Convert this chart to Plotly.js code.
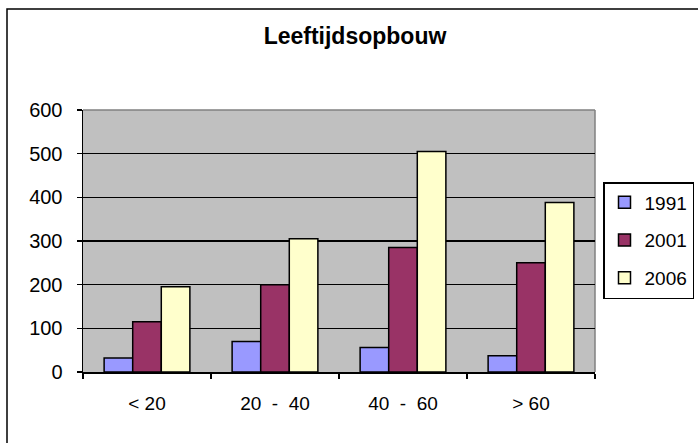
<!DOCTYPE html>
<html>
<head>
<meta charset="utf-8">
<script src="https://cdn.plot.ly/plotly-3.0.1.min.js"></script>
<style>html,body{margin:0;padding:0;background:#fff;}#chart{width:698px;height:443px;}</style>
</head>
<body>
<div id="chart"></div>
<script>
const categories = ["< 20", "20\u00a0\u00a0-\u00a0\u00a040", "40\u00a0\u00a0-\u00a0\u00a060", "> 60"];
const seriesNames = ["1991", "2001", "2006"];
const values1991 = [32, 70, 56, 37];
const values2001 = [115, 200, 285, 250];
const values2006 = [195, 305, 505, 388];
const yTicks = [0, 100, 200, 300, 400, 500, 600];
const chartTitle = "Leeftijdsopbouw";

const colors = ["#9999FF", "#993366", "#FFFFCC"];
const allValues = [values1991, values2001, values2006];
const FONT = "Arial, 'Liberation Sans', sans-serif";

const traces = allValues.map((vals, i) => ({
  type: "bar",
  x: categories,
  y: vals,
  name: seriesNames[i],
  legendgroup: "g" + i,
  marker: {color: colors[i], line: {color: "#000", width: 1.5}},
  hoverinfo: "x+y+name"
}));

// plot area in pixels: x 83..595, y 110..372
const W = 698, H = 443, L = 83, R = 595, T = 110, B = 372;
const pw = R - L, ph = B - T;
const px = v => (v - L) / pw;
const py = v => (B - v) / ph;

const layout = {
  width: W, height: H,
  margin: {l: L, r: W - R, t: T, b: H - B, pad: 0, autoexpand: false},
  paper_bgcolor: "#ffffff",
  plot_bgcolor: "#C0C0C0",
  font: {family: FONT, size: 19, color: "#000"},
  title: {
    text: "<b>" + chartTitle + "</b>",
    font: {family: FONT, size: 23, color: "#000"},
    x: 355 / W, xref: "container", xanchor: "center",
    y: 1 - 36 / H, yref: "container", yanchor: "middle"
  },
  bargap: 0.33,
  bargroupgap: 0,
  barmode: "group",
  xaxis: {
    type: "category",
    showline: true, linecolor: "#000", linewidth: 1.5,
    ticks: "outside", tickson: "boundaries", ticklen: 5, tickcolor: "#000", tickwidth: 1.5,
    ticklabelstandoff: 14,
    showgrid: false, zeroline: false,
    tickfont: {family: FONT, size: 19, color: "#000"},
    fixedrange: true
  },
  yaxis: {
    range: [0, 600],
    tickvals: yTicks,
    ticktext: yTicks.map(String),
    showline: true, linecolor: "#000", linewidth: 1.5,
    ticks: "outside", ticklen: 5, tickcolor: "#000", tickwidth: 1.5,
    ticklabelstandoff: 10,
    showgrid: true, gridcolor: "#000", gridwidth: 1.5,
    zeroline: false,
    tickfont: {family: FONT, size: 20, color: "#000"},
    fixedrange: true
  },
  showlegend: true,
  legend: {
    x: px(603), xanchor: "left",
    y: py(182), yanchor: "top",
    bgcolor: "#ffffff",
    bordercolor: "#000", borderwidth: 1.5,
    font: {family: FONT, size: 19, color: "#000"},
    traceorder: "grouped",
    tracegroupgap: 10,
    itemclick: false, itemdoubleclick: false
  },
  shapes: [
    // plot area border (grey) on top and right
    {type: "line", xref: "paper", yref: "paper", x0: 0, x1: 1, y0: 1, y1: 1, line: {color: "#808080", width: 1.5}, layer: "below"},
    {type: "line", xref: "paper", yref: "paper", x0: 1, x1: 1, y0: 0, y1: 1, line: {color: "#808080", width: 1.5}, layer: "below"},
    // outer chart border
    {type: "rect", xref: "paper", yref: "paper",
     x0: px(7), x1: px(W + 10), y0: py(H + 10), y1: py(9),
     line: {color: "#000", width: 1.5}, fillcolor: "rgba(0,0,0,0)"}
  ]
};

Plotly.newPlot("chart", traces, layout, {displayModeBar: false, staticPlot: true});
</script>
</body>
</html>
